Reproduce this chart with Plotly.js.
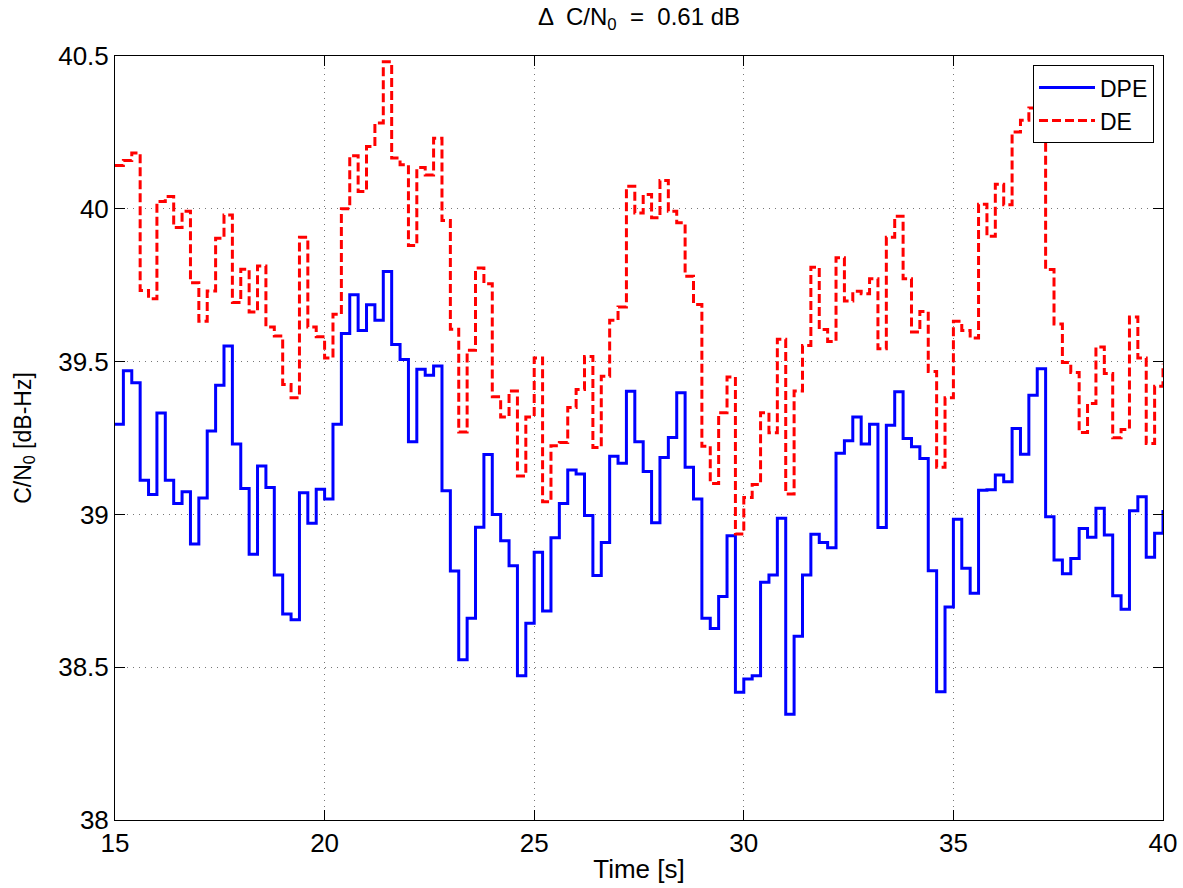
<!DOCTYPE html>
<html>
<head>
<meta charset="utf-8">
<script src="https://cdn.plot.ly/plotly-3.0.1.min.js"></script>
<style>
html,body{margin:0;padding:0;background:#fff;}
#chart{width:1183px;height:888px;}
</style>
</head>
<body>
<div id="chart"></div>
<script>
// Time stamps [s] (0.2 s steps)
var time = [15.0,15.2,15.4,15.6,15.8,16.0,16.2,16.4,16.6,16.8,17.0,17.2,17.4,17.6,17.8,18.0,18.2,18.4,18.6,18.8,
19.0,19.2,19.4,19.6,19.8,20.0,20.2,20.4,20.6,20.8,21.0,21.2,21.4,21.6,21.8,22.0,22.2,22.4,22.6,22.8,
23.0,23.2,23.4,23.6,23.8,24.0,24.2,24.4,24.6,24.8,25.0,25.2,25.4,25.6,25.8,26.0,26.2,26.4,26.6,26.8,
27.0,27.2,27.4,27.6,27.8,28.0,28.2,28.4,28.6,28.8,29.0,29.2,29.4,29.6,29.8,30.0,30.2,30.4,30.6,30.8,
31.0,31.2,31.4,31.6,31.8,32.0,32.2,32.4,32.6,32.8,33.0,33.2,33.4,33.6,33.8,34.0,34.2,34.4,34.6,34.8,
35.0,35.2,35.4,35.6,35.8,36.0,36.2,36.4,36.6,36.8,37.0,37.2,37.4,37.6,37.8,38.0,38.2,38.4,38.6,38.8,
39.0,39.2,39.4,39.6,39.8,40.0];

// C/N0 estimates [dB-Hz]
var dpe = [39.295,39.470,39.431,39.112,39.065,39.332,39.112,39.036,39.074,38.903,39.054,39.273,39.423,39.551,39.230,39.085,38.870,39.158,39.088,38.802,
38.674,38.655,39.071,38.971,39.082,39.050,39.295,39.592,39.719,39.602,39.686,39.635,39.795,39.556,39.507,39.238,39.475,39.455,39.486,39.077,
38.815,38.524,38.660,38.958,39.196,39.000,38.914,38.832,38.472,38.644,38.876,38.684,38.924,39.036,39.145,39.132,38.996,38.800,38.908,39.190,
39.167,39.403,39.238,39.140,38.973,39.186,39.252,39.398,39.154,39.050,38.660,38.627,38.731,38.930,38.418,38.461,38.472,38.778,38.802,38.987,
38.346,38.601,38.802,38.935,38.908,38.891,39.200,39.241,39.319,39.230,39.295,38.957,39.292,39.401,39.248,39.221,39.183,38.816,38.420,38.697,
38.984,38.824,38.742,39.079,39.081,39.129,39.107,39.281,39.197,39.390,39.477,38.992,38.851,38.806,38.856,38.954,38.925,39.020,38.933,38.734,
38.690,39.012,39.058,38.860,38.938,39.014];

var de = [40.142,40.158,40.183,39.733,39.706,40.024,40.040,39.939,39.992,39.758,39.632,39.731,39.904,39.980,39.693,39.802,39.662,39.813,39.613,39.584,
39.425,39.382,39.907,39.613,39.581,39.512,39.655,40.000,40.174,40.057,40.204,40.281,40.481,40.166,40.144,39.880,40.135,40.111,40.231,39.962,
39.606,39.270,39.537,39.806,39.755,39.385,39.319,39.404,39.126,39.319,39.512,39.041,39.225,39.235,39.350,39.409,39.517,39.219,39.452,39.635,
39.679,40.074,39.986,40.047,39.971,40.093,39.992,39.954,39.779,39.687,39.223,39.101,39.333,39.450,38.936,39.055,39.098,39.333,39.267,39.573,
39.067,39.404,39.553,39.809,39.605,39.566,39.840,39.698,39.730,39.722,39.771,39.542,39.907,39.976,39.771,39.597,39.664,39.468,39.154,39.382,
39.632,39.602,39.577,40.015,39.910,40.080,40.013,40.251,40.290,40.330,40.310,39.801,39.623,39.497,39.464,39.268,39.363,39.548,39.461,39.251,
39.278,39.646,39.512,39.232,39.419,39.493];

var xTicks = [15,20,25,30,35,40];
var xTickText = ['15','20','25','30','35','40'];
var yTicks = [38,38.5,39,39.5,40,40.5];
var yTickText = ['38','38.5','39','39.5','40','40.5'];

var FONT = 'Liberation Sans, Arial, Helvetica, sans-serif';

var traces = [
  {x: time, y: dpe, name: 'DPE', type: 'scatter', mode: 'lines',
   line: {shape: 'hv', color: '#0000ff', width: 3}},
  {x: time, y: de, name: 'DE', type: 'scatter', mode: 'lines',
   line: {shape: 'hv', color: '#ff0000', width: 3, dash: '9px,4px'}}
];

var axisCommon = {
  showline: true, linecolor: '#000', linewidth: 1, mirror: 'ticks',
  ticks: 'inside', ticklen: 10, tickwidth: 1, tickcolor: '#000',
  showgrid: true, gridcolor: '#777', gridwidth: 1, griddash: '1px,5px',
  zeroline: false, tickfont: {family: FONT, size: 26, color: '#000'}
};

var layout = {
  width: 1183, height: 888,
  paper_bgcolor: '#fff', plot_bgcolor: '#fff',
  margin: {l: 115, r: 20, t: 56, b: 68},
  font: {family: FONT, color: '#000'},
  title: {text: 'Δ  C/N<sub>0</sub>  =  0.61 dB', font: {family: FONT, size: 24, color: '#000'},
          xref: 'paper', x: 0.5, xanchor: 'center', yref: 'container', y: 0.981, yanchor: 'middle'},
  xaxis: Object.assign({}, axisCommon, {
    range: [15, 40], tickmode: 'array', tickvals: xTicks, ticktext: xTickText,
    title: {text: 'Time [s]', font: {family: FONT, size: 26, color: '#000'}, standoff: 2}
  }),
  yaxis: Object.assign({}, axisCommon, {
    range: [38, 40.5], tickmode: 'array', tickvals: yTicks, ticktext: yTickText,
    title: {text: 'C/N<sub>0</sub> [dB-Hz]', font: {family: FONT, size: 23, color: '#000'}, standoff: 20}
  }),
  showlegend: true,
  legend: {x: 0.9914, xanchor: 'right', y: 0.988, yanchor: 'top',
           bgcolor: '#fff', bordercolor: '#000', borderwidth: 1, itemwidth: 56,
           font: {family: FONT, size: 23, color: '#000'}, tracegroupgap: 0}
};

Plotly.newPlot('chart', traces, layout, {displayModeBar: false, staticPlot: true});
</script>
</body>
</html>
